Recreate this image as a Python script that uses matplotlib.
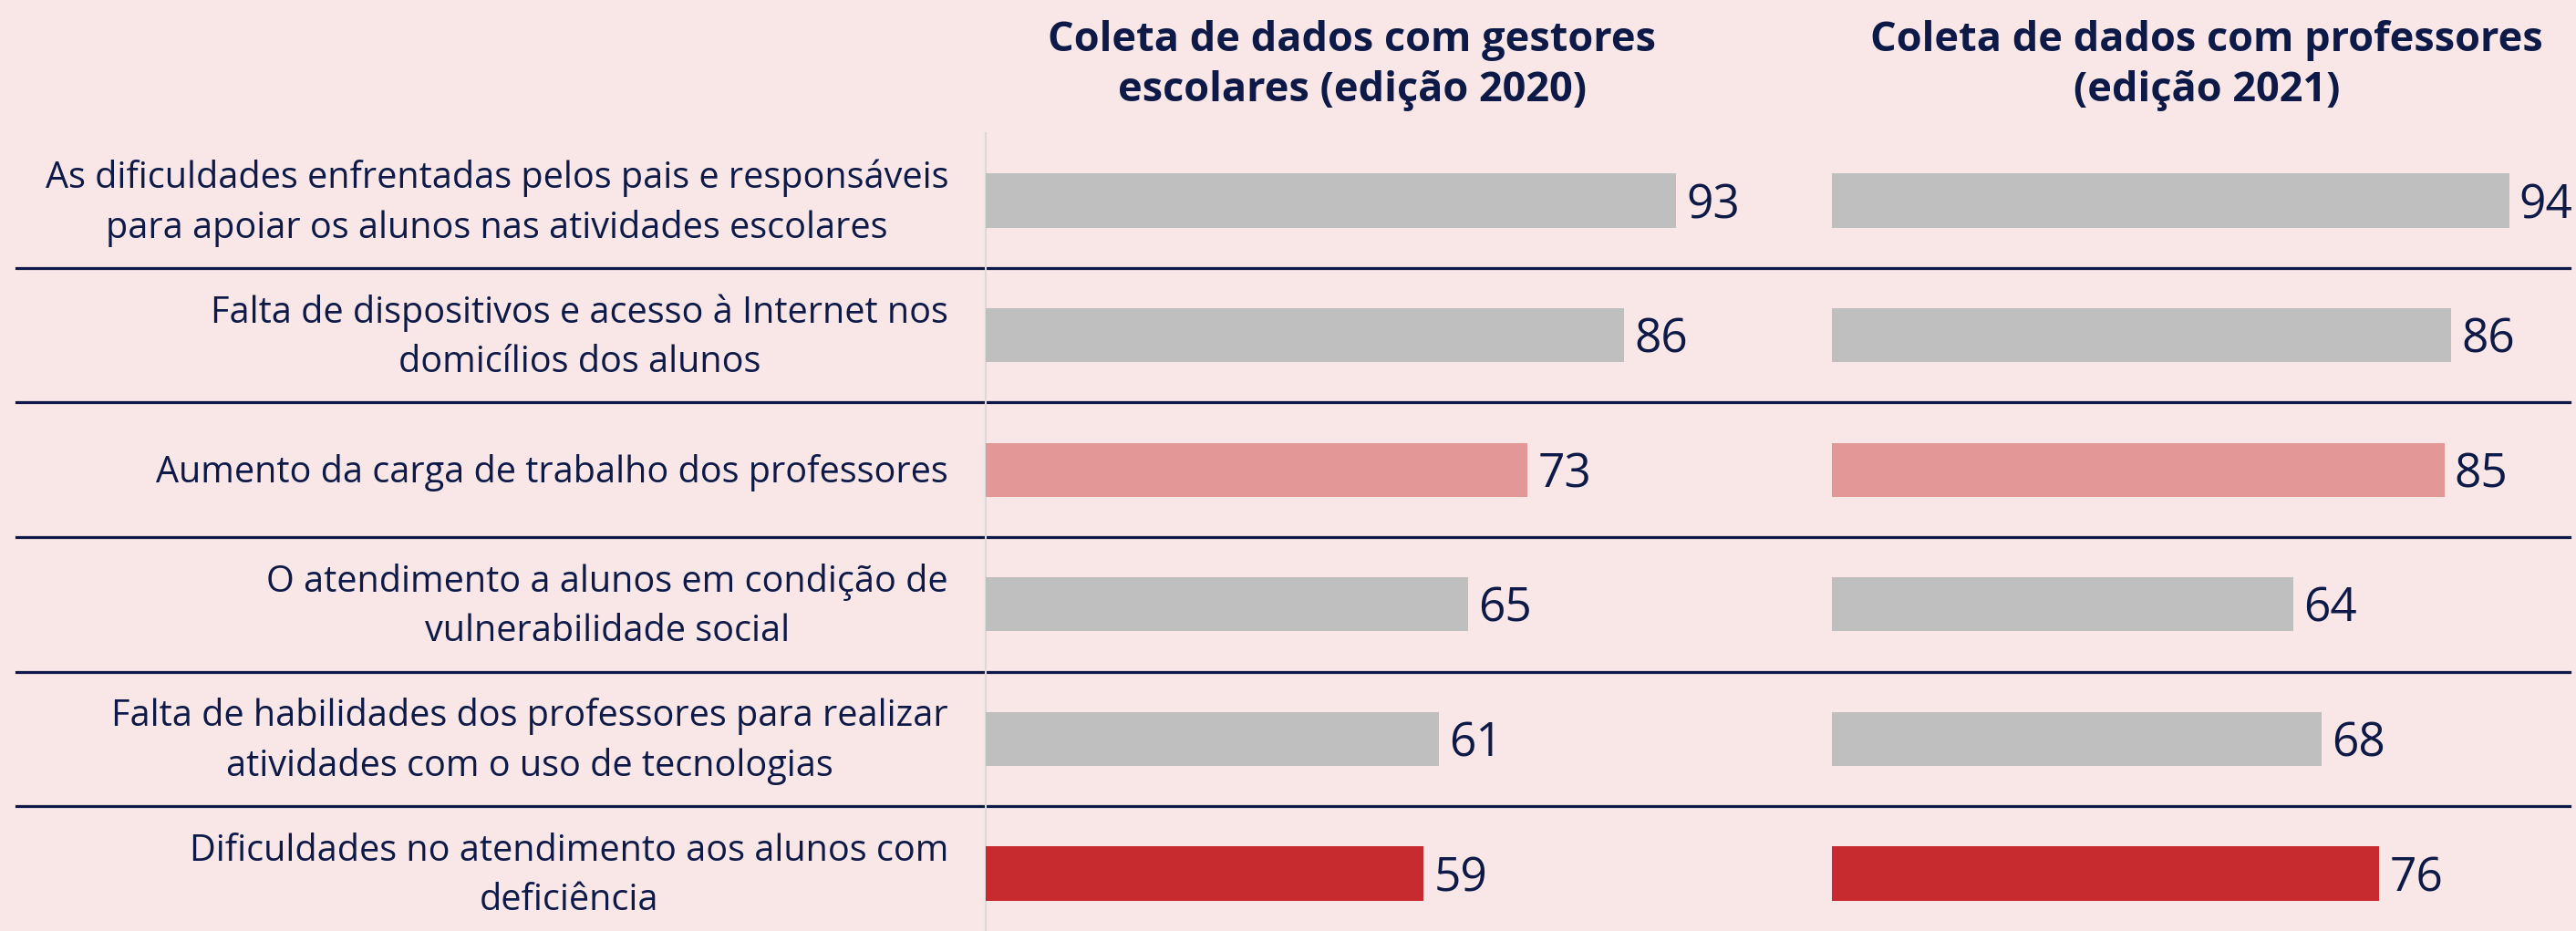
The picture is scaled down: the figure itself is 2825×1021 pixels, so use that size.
import matplotlib.pyplot as plt

# data
labels = [
    'As dificuldades enfrentadas pelos pais e responsáveis\npara apoiar os alunos nas atividades escolares',
    'Falta de dispositivos e acesso à Internet nos\ndomicílios dos alunos',
    'Aumento da carga de trabalho dos professores',
    'O atendimento a alunos em condição de\nvulnerabilidade social',
    'Falta de habilidades dos professores para realizar\natividades com o uso de tecnologias',
    'Dificuldades no atendimento aos alunos com\ndeficiência',
]
vals_2020 = [93, 86, 73, 65, 61, 59]
vals_2021 = [94, 86, 85, 64, 68, 76]
title_2020 = 'Coleta de dados com gestores\nescolares (edição 2020)'
title_2021 = 'Coleta de dados com professores\n(edição 2021)'

# styles
BG = '#F9E6E7'
NAVY = '#0D1A48'
bar_colors = ['#BFBFBF', '#BFBFBF', '#E39797', '#BFBFBF', '#BFBFBF', '#C72B2F']
plt.rcParams['font.family'] = ['Open Sans', 'DejaVu Sans']

W, H = 2825, 1021
fig = plt.figure(figsize=(W / 100, H / 100), dpi=100)
fig.patch.set_facecolor(BG)

# rows: centre of row 0 at 220 px, 147.6 px per row
ylim = ((H - 220) / 147.6, -220 / 147.6)

ax_bg = fig.add_axes([0, 0, 1, 1])
ax_bg.set_xlim(0, 1)
ax_bg.set_ylim(*ylim)
ax_bg.axis('off')

n = len(labels)
for i in range(n - 1):
    ax_bg.plot([18 / W, 2818 / W], [i + 0.5, i + 0.5], color=NAVY, lw=2.3)
for i, lab in enumerate(labels):
    ax_bg.text(1040 / W, i + 0.02, lab, ha='right', va='center', multialignment='center',
               fontsize=28.5, color=NAVY, linespacing=1.45)
# vertical guide
ax_bg.plot([1081 / W, 1081 / W], [-0.5, ylim[0]], color='#DADADA', lw=1.5)

ax_bg.text(1483 / W, -1.0, title_2020, ha='center', va='center', fontsize=32.5,
           fontweight='bold', color=NAVY, linespacing=1.3)
ax_bg.text(2420 / W, -1.0, title_2021, ha='center', va='center', fontsize=32.5,
           fontweight='bold', color=NAVY, linespacing=1.3)


def draw_panel(left_px, px_per_unit, values):
    ax = fig.add_axes([left_px / W, 0, 100 * px_per_unit / W, 1])
    ax.set_xlim(0, 100)
    ax.set_ylim(*ylim)
    ax.axis('off')
    ypos = list(range(len(values)))
    ax.barh(ypos, values, height=0.4, color=bar_colors)
    for y, v in zip(ypos, values):
        ax.annotate(str(v), (v, y), xytext=(8, -4), textcoords='offset points',
                    ha='left', va='center', fontsize=37, color=NAVY,
                    annotation_clip=False)
    return ax


draw_panel(1081, 8.14, vals_2020)
draw_panel(2009, 7.9, vals_2021)

fig.savefig('out.png', dpi=100, facecolor=BG)
